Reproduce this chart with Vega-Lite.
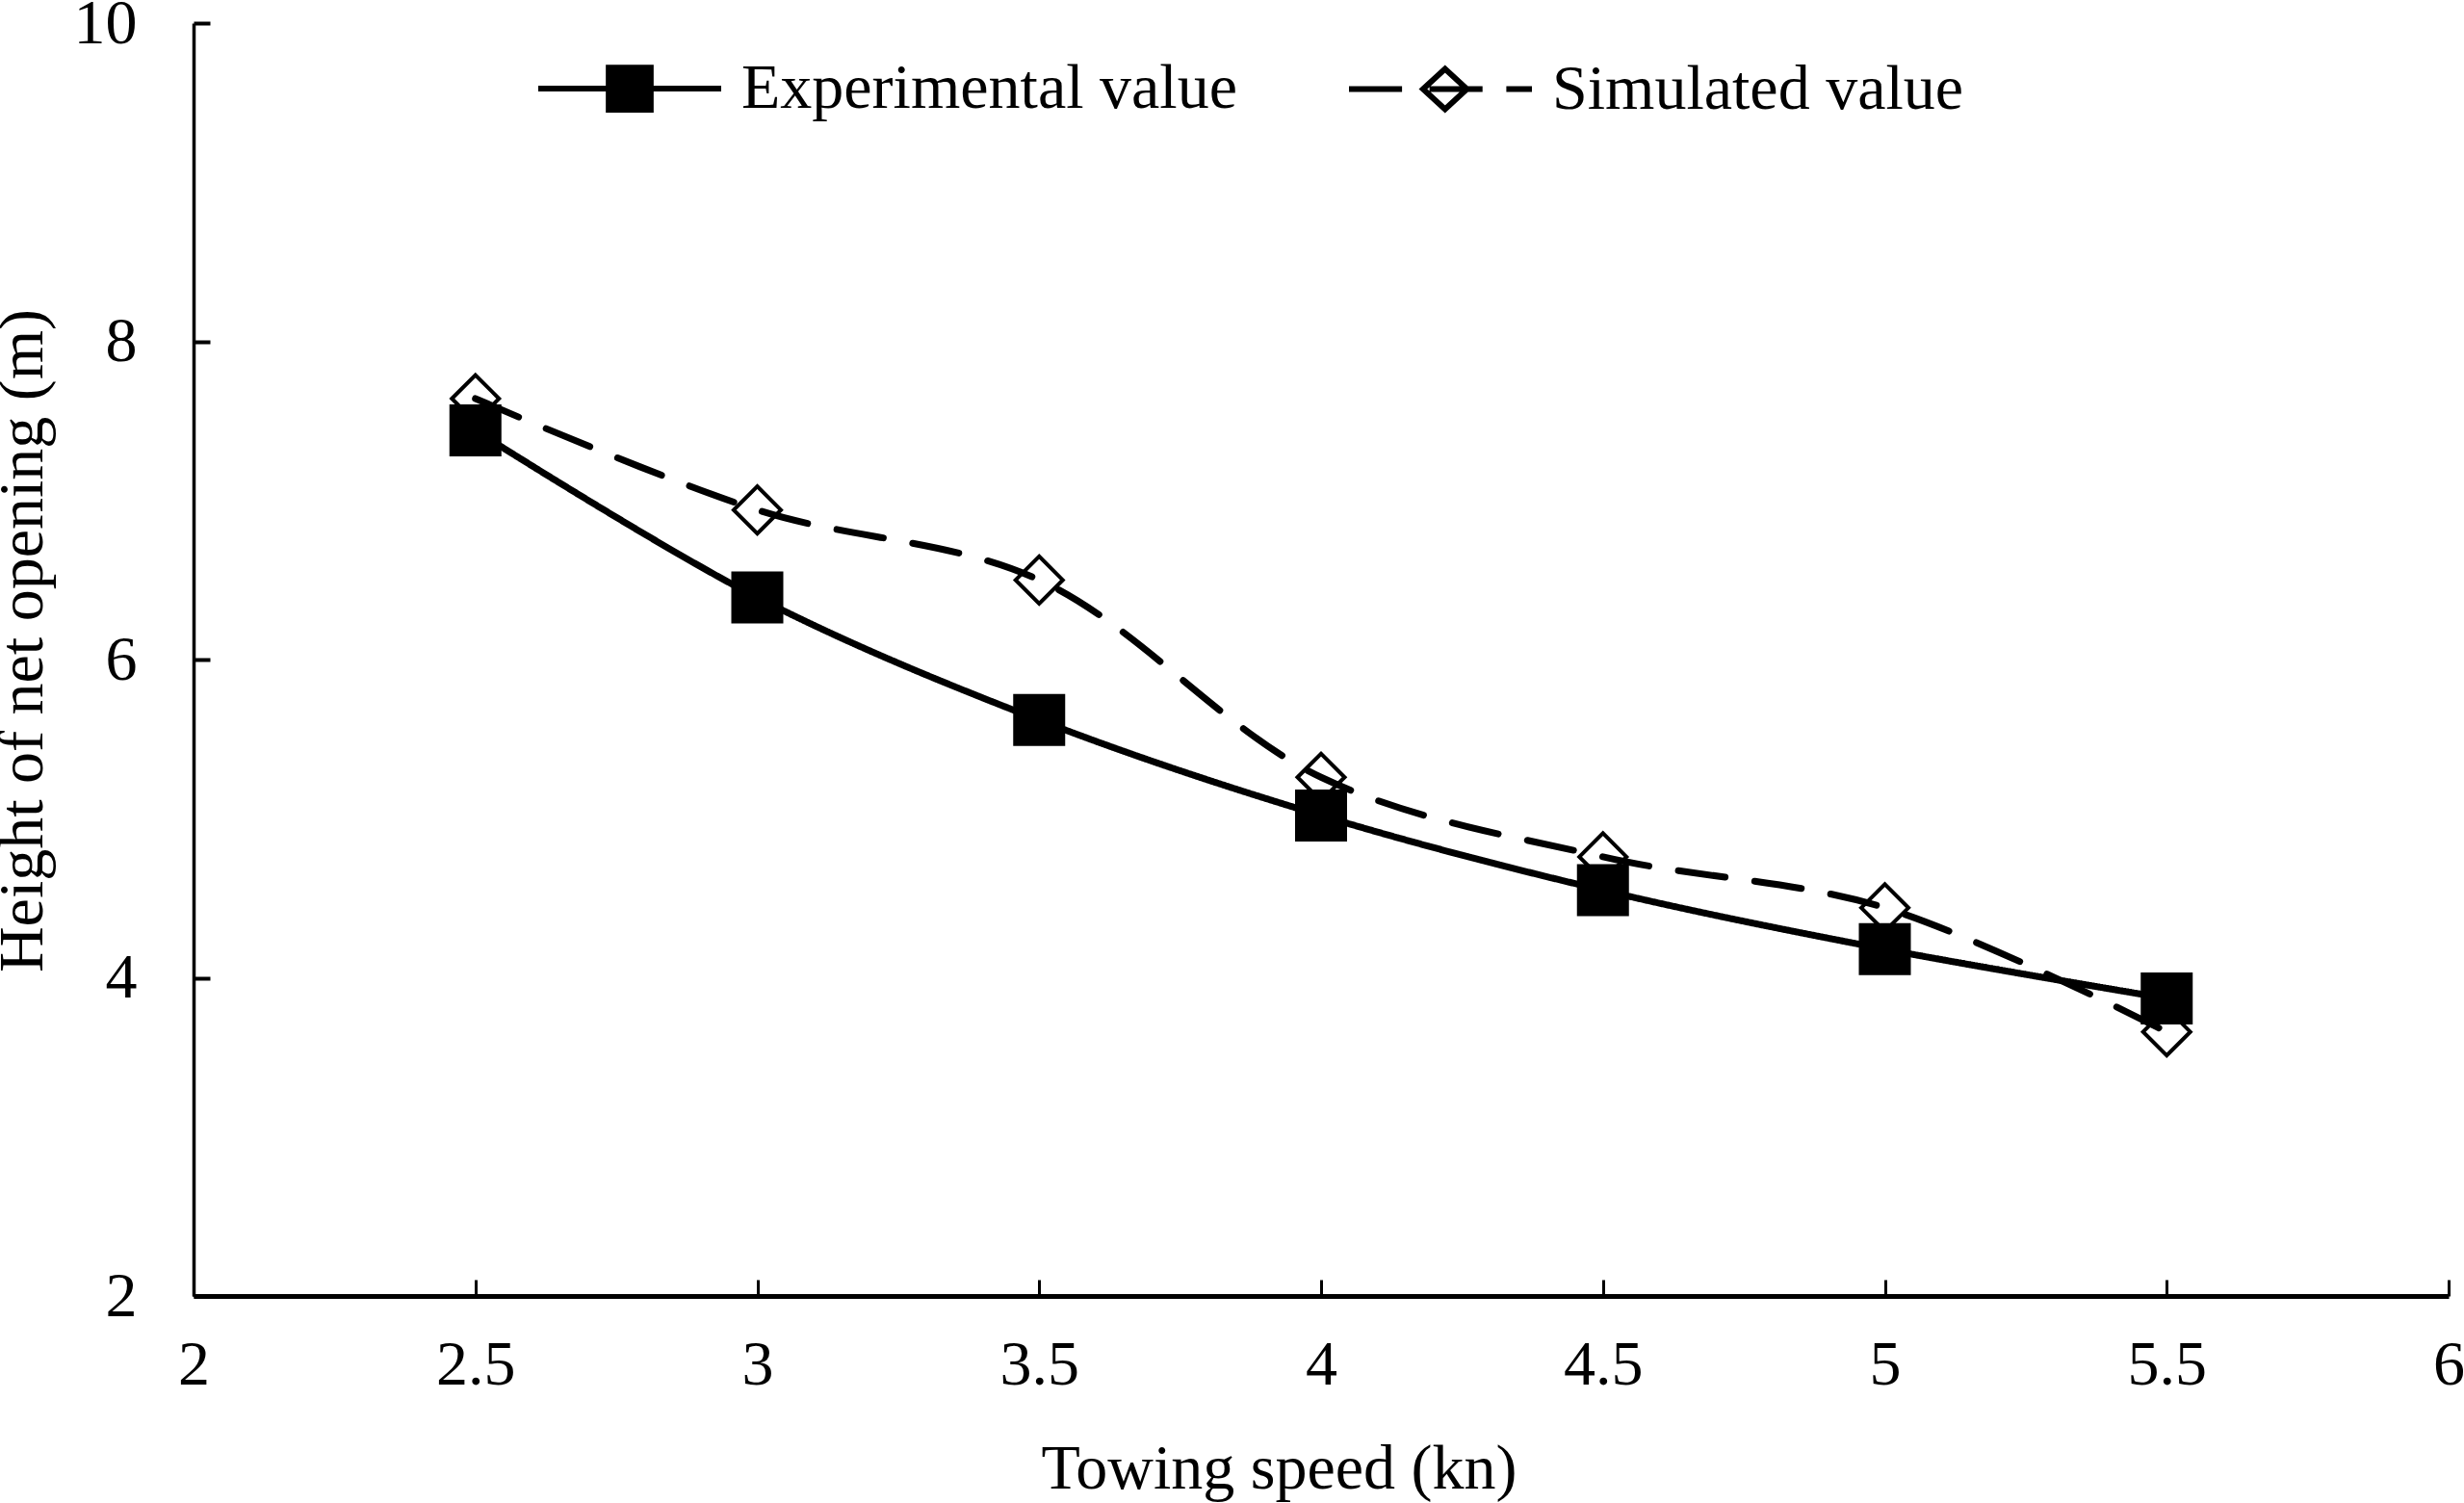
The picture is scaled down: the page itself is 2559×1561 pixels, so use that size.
{
  "$schema": "https://vega.github.io/schema/vega-lite/v6.json",
  "width": 2342,
  "height": 1322,
  "autosize": "none",
  "padding": {"left": 201, "top": 24, "right": 16, "bottom": 215},
  "background": "white",
  "config": {
    "view": {"stroke": null},
    "font": "Liberation Serif",
    "axis": {
      "labelFont": "Liberation Serif",
      "titleFont": "Liberation Serif",
      "labelFontSize": 66,
      "titleFontSize": 66,
      "titleFontWeight": "normal",
      "labelColor": "black",
      "titleColor": "black",
      "domainColor": "black",
      "tickColor": "black",
      "grid": false,
      "labelFlush": false,
      "labelOverlap": false,
      "labelBound": false
    },
    "legend": {
      "labelFont": "Liberation Serif",
      "labelFontSize": 66,
      "labelColor": "black",
      "labelLimit": 0
    }
  },
  "data": {
    "values": [
      {"speed": 2.5, "height": 7.64, "series": "Simulated value"},
      {"speed": 3.0, "height": 6.94, "series": "Simulated value"},
      {"speed": 3.5, "height": 6.50, "series": "Simulated value"},
      {"speed": 4.0, "height": 5.26, "series": "Simulated value"},
      {"speed": 4.5, "height": 4.76, "series": "Simulated value"},
      {"speed": 5.0, "height": 4.44, "series": "Simulated value"},
      {"speed": 5.5, "height": 3.66, "series": "Simulated value"},
      {"speed": 2.5, "height": 7.44, "series": "Experimental value"},
      {"speed": 3.0, "height": 6.39, "series": "Experimental value"},
      {"speed": 3.5, "height": 5.62, "series": "Experimental value"},
      {"speed": 4.0, "height": 5.02, "series": "Experimental value"},
      {"speed": 4.5, "height": 4.55, "series": "Experimental value"},
      {"speed": 5.0, "height": 4.18, "series": "Experimental value"},
      {"speed": 5.5, "height": 3.87, "series": "Experimental value"}
    ]
  },
  "encoding": {
    "x": {
      "field": "speed",
      "type": "quantitative",
      "scale": {"domain": [2, 6], "nice": false, "zero": false},
      "axis": {
        "title": "Towing speed (kn)",
        "values": [2, 2.5, 3, 3.5, 4, 4.5, 5, 5.5, 6],
        "format": "~r",
        "tickSize": -17,
        "tickWidth": 3,
        "domainWidth": 5,
        "labelPadding": 56,
        "titlePadding": 43,
        "titleX": 1127
      }
    },
    "y": {
      "field": "height",
      "type": "quantitative",
      "scale": {"domain": [2, 10], "nice": false, "zero": false},
      "axis": {
        "title": "Height of net opening (m)",
        "values": [2, 4, 6, 8, 10],
        "format": "d",
        "tickSize": -17,
        "tickWidth": 4,
        "domainWidth": 3.5,
        "labelPadding": 76,
        "titlePadding": 19,
        "titleY": 641
      }
    }
  },
  "layer": [
    {
      "mark": {"type": "line", "interpolate": "catmull-rom", "strokeWidth": 7, "color": "black", "strokeCap": "round"},
      "encoding": {
        "detail": {"field": "series"},
        "strokeDash": {
          "condition": {"test": "datum.series === 'Simulated value'", "value": [49, 31]},
          "value": [1, 0]
        }
      }
    },
    {
      "mark": {"type": "point", "stroke": "black", "strokeWidth": 4, "fillOpacity": 1, "opacity": 1},
      "encoding": {
        "shape": {
          "condition": {"test": "datum.series === 'Experimental value'", "value": "square"},
          "value": "diamond"
        },
        "fill": {
          "condition": {"test": "datum.series === 'Experimental value'", "value": "black"},
          "value": "transparent"
        },
        "size": {
          "condition": {"test": "datum.series === 'Experimental value'", "value": 2500},
          "value": 2400
        }
      }
    },
    {
      "mark": {"type": "point", "strokeWidth": 6, "fillOpacity": 1, "opacity": 0},
      "encoding": {
        "shape": {
          "field": "series",
          "type": "nominal",
          "scale": {
            "domain": ["Experimental value", "Simulated value"],
            "range": [
              "M-1,0H1M-0.23,-0.23H0.23V0.23H-0.23Z",
              "M-1,0H-0.42M-0.12,0H0.46M0.72,0H1M-0.19,0L0.05,-0.22L0.29,0L0.05,0.22Z"
            ]
          },
          "legend": {
            "title": null,
            "orient": "none",
            "direction": "horizontal",
            "legendX": 355,
            "legendY": -30,
            "padding": 0,
            "symbolSize": 36100,
            "symbolOpacity": 1,
            "symbolStrokeWidth": 6,
            "labelOffset": 18,
            "columnPadding": 104
          }
        },
        "fill": {
          "field": "series",
          "type": "nominal",
          "scale": {"domain": ["Experimental value", "Simulated value"], "range": ["black", "transparent"]},
          "legend": {
            "title": null,
            "orient": "none",
            "direction": "horizontal",
            "legendX": 355,
            "legendY": -30,
            "padding": 0,
            "symbolSize": 36100,
            "symbolOpacity": 1,
            "symbolStrokeWidth": 6,
            "labelOffset": 18,
            "columnPadding": 104
          }
        },
        "stroke": {
          "field": "series",
          "type": "nominal",
          "scale": {"domain": ["Experimental value", "Simulated value"], "range": ["black", "black"]},
          "legend": {
            "title": null,
            "orient": "none",
            "direction": "horizontal",
            "legendX": 355,
            "legendY": -30,
            "padding": 0,
            "symbolSize": 36100,
            "symbolOpacity": 1,
            "symbolStrokeWidth": 6,
            "labelOffset": 18,
            "columnPadding": 104
          }
        }
      }
    }
  ]
}
